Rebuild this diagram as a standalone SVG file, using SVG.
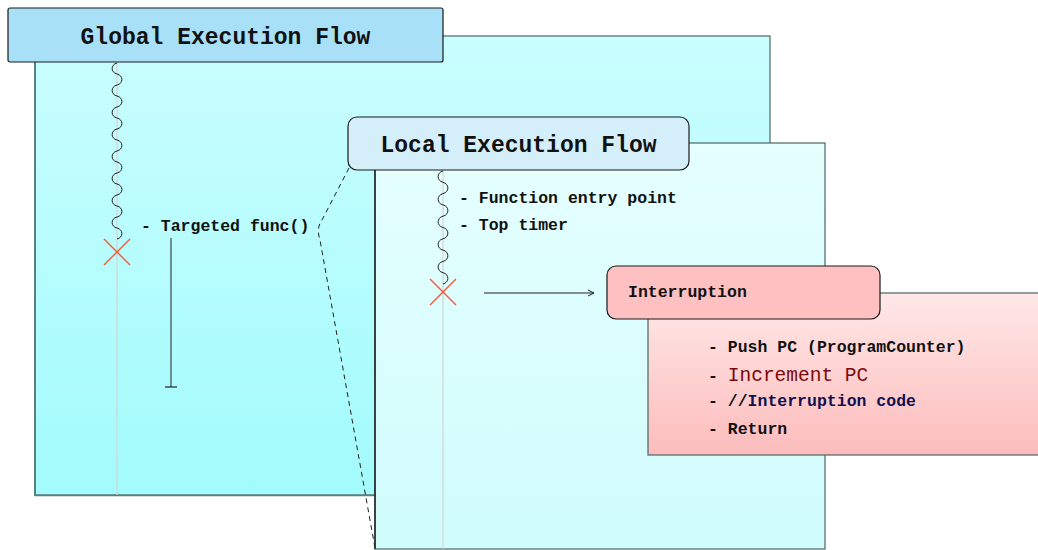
<svg xmlns="http://www.w3.org/2000/svg" width="1038" height="550" viewBox="0 0 1038 550">
<defs>
<linearGradient id="gGlobal" x1="0" y1="0" x2="0" y2="1"><stop offset="0" stop-color="#cafeff"/><stop offset="1" stop-color="#a2fbfc"/></linearGradient>
<linearGradient id="gLocal" x1="0" y1="0" x2="0" y2="1"><stop offset="0" stop-color="#e6ffff"/><stop offset="1" stop-color="#d0fcfc"/></linearGradient>
<linearGradient id="gInt" x1="0" y1="0" x2="0" y2="1"><stop offset="0" stop-color="#ffe8e8"/><stop offset="1" stop-color="#fdbcbc"/></linearGradient>
<marker id="arr" markerWidth="8" markerHeight="8" refX="7" refY="4" orient="auto" markerUnits="userSpaceOnUse"><path d="M1,1 L7,4 L1,7" fill="none" stroke="#222" stroke-width="1"/></marker>
</defs>
<style>
.box{stroke:#4d6464;stroke-width:1.2}
.hdr{stroke:#1a1a1a;stroke-width:1.2}
.life{stroke:#d4d4d4;stroke-width:1.2;fill:none}
.wave{stroke:#222;stroke-width:1;fill:none}
.xm{stroke:#f25a3a;stroke-width:1.4}
.title{font-family:"Liberation Mono","DejaVu Sans Mono",monospace;font-weight:bold;font-size:23px;fill:#111}
.t{font-family:"Liberation Mono","DejaVu Sans Mono",monospace;font-weight:bold;font-size:16.5px;fill:#111}
.inc{font-family:"Liberation Mono","DejaVu Sans Mono",monospace;font-weight:normal;font-size:19.5px;fill:#7a0a0a}
.navy{fill:#101050}
</style>
<rect width="1038" height="550" fill="#fff"/>

<g id="global">
<rect class="box" x="35" y="36" width="735" height="459" fill="url(#gGlobal)"/>
<line x1="35" y1="36" x2="35" y2="496" stroke="#5a7f7f" stroke-width="2"/>
<line x1="35" y1="495.5" x2="375" y2="495.5" stroke="#5a7f7f" stroke-width="1.6"/>
<line class="life" x1="117" y1="62" x2="117" y2="495"/>
<line class="xm" x1="104" y1="239" x2="130" y2="265"/>
<line class="xm" x1="130" y1="239" x2="104" y2="265"/>
<text class="t" x="141" y="231">- Targeted func()</text>
<rect class="hdr" x="8" y="8" width="435" height="54" rx="2" fill="#a8e0f8"/>
<text class="title" x="225.5" y="44" text-anchor="middle">Global Execution Flow</text>
</g>

<g id="local">
<rect class="box" x="375" y="143" width="450" height="406" fill="url(#gLocal)"/>
<line x1="375" y1="143" x2="375" y2="549" stroke="#1a1a1a" stroke-width="1.4"/>
<line class="life" x1="443" y1="170" x2="443" y2="549"/>
<line class="xm" x1="430" y1="279" x2="456" y2="305"/>
<line class="xm" x1="456" y1="279" x2="430" y2="305"/>
<text class="t" x="459" y="203">- Function entry point</text>
<text class="t" x="459" y="230">- Top timer</text>
<rect class="hdr" x="348" y="117" width="341" height="53" rx="9" fill="#d4eefa"/>
<text class="title" x="518.5" y="152" text-anchor="middle">Local Execution Flow</text>
</g>

<g id="interruption">
<rect class="box" x="648" y="293" width="400" height="162" fill="url(#gInt)"/>
<text class="t" x="708" y="352">- Push PC (ProgramCounter)</text>
<text class="t" x="708" y="381">- <tspan class="inc">Increment PC</tspan></text>
<text class="t" x="708" y="406">- //<tspan class="navy">Interruption code</tspan></text>
<text class="t" x="708" y="434">- Return</text>
<rect class="hdr" x="607" y="266" width="273" height="53" rx="9" fill="#fec0c0"/>
<text class="t" x="628" y="297">Interruption</text>
</g>

<g id="connectors">
<path class="wave" d="M117,63 c-6.5,1.5 -6.5,9.5 0,11 c6.5,1.5 6.5,9.5 0,11 c-6.5,1.5 -6.5,9.5 0,11 c6.5,1.5 6.5,9.5 0,11 c-6.5,1.5 -6.5,9.5 0,11 c6.5,1.5 6.5,9.5 0,11 c-6.5,1.5 -6.5,9.5 0,11 c6.5,1.5 6.5,9.5 0,11 c-6.5,1.5 -6.5,9.5 0,11 c6.5,1.5 6.5,9.5 0,11 c-6.5,1.5 -6.5,9.5 0,11 c6.5,1.5 6.5,9.5 0,11 c-6.5,1.5 -6.5,9.5 0,11 c6.5,1.5 6.5,9.5 0,11 c-6.5,1.5 -6.5,9.5 0,11 c6.5,1.5 6.5,9.5 0,11"/>
<path class="wave" d="M443,171 c-6.5,1.5 -6.5,9.8 0,11.3 c6.5,1.5 6.5,9.8 0,11.3 c-6.5,1.5 -6.5,9.8 0,11.3 c6.5,1.5 6.5,9.8 0,11.3 c-6.5,1.5 -6.5,9.8 0,11.3 c6.5,1.5 6.5,9.8 0,11.3 c-6.5,1.5 -6.5,9.8 0,11.3 c6.5,1.5 6.5,9.8 0,11.3 c-6.5,1.5 -6.5,9.8 0,11.3 c6.5,1.5 6.5,9.8 0,11.3"/>
<line x1="171" y1="238" x2="171" y2="387" stroke="#222" stroke-width="1"/>
<line x1="165" y1="387" x2="177" y2="387" stroke="#222" stroke-width="1.2"/>
<path d="M349,168 L322,220 Q316,228 320,240 L375,548" fill="none" stroke="#222" stroke-width="1" stroke-dasharray="5,4"/>
<line x1="484" y1="293" x2="594" y2="293" stroke="#222" stroke-width="1" marker-end="url(#arr)"/>
</g>
</svg>
